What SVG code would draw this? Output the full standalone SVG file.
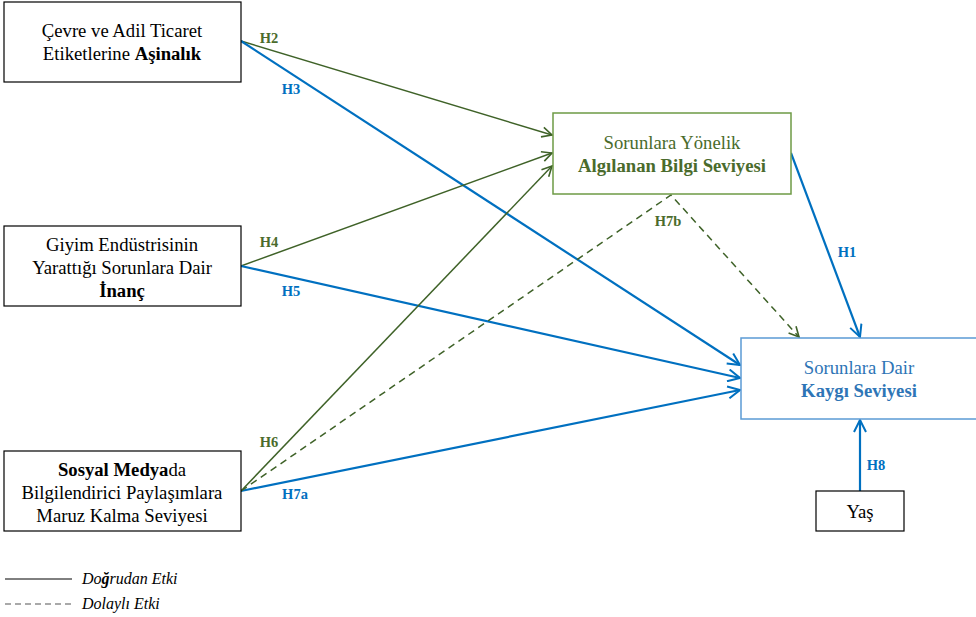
<svg xmlns="http://www.w3.org/2000/svg" width="976" height="617" viewBox="0 0 976 617">
<style>
text{font-size:18.7px;text-anchor:middle}
.box{fill:#fff;stroke:#000;stroke-width:1.2}
.gbox{fill:#fff;stroke:#6e9a45;stroke-width:1.5}
.bbox{fill:#fff;stroke:#5b9bd5;stroke-width:1.5}
.g{stroke:#3f6228;stroke-width:1.5;fill:none}
.gd{stroke:#3f6228;stroke-width:1.5;fill:none;stroke-dasharray:7,5}
.b{stroke:#0070c0;stroke-width:2.2;fill:none}
.lg{font-size:14.5px;font-weight:bold;fill:#4a6b2c}
.lb{font-size:14.5px;font-weight:bold;fill:#0070c0}
.leg{font-style:italic;font-size:16px;text-anchor:start}
</style>
<defs>
<marker id="ag" viewBox="0 0 12 12" refX="11" refY="6" markerWidth="12" markerHeight="12" markerUnits="userSpaceOnUse" orient="auto"><path d="M1,1 L11,6 L1,11" fill="none" stroke="#3f6228" stroke-width="1.6"/></marker>
<marker id="ab" viewBox="0 0 14 14" refX="13" refY="7" markerWidth="14" markerHeight="14" markerUnits="userSpaceOnUse" orient="auto"><path d="M1,1 L13,7 L1,13" fill="none" stroke="#0070c0" stroke-width="2"/></marker>
</defs>
<g id="connectors">
<line class="g" x1="241" y1="41" x2="552" y2="135" marker-end="url(#ag)"/>
<line class="b" x1="241" y1="41" x2="740" y2="365" marker-end="url(#ab)"/>
<line class="g" x1="241" y1="266" x2="552" y2="153" marker-end="url(#ag)"/>
<line class="b" x1="241" y1="266" x2="740" y2="378" marker-end="url(#ab)"/>
<line class="g" x1="241" y1="491" x2="552" y2="166" marker-end="url(#ag)"/>
<line class="b" x1="241" y1="491" x2="740" y2="390" marker-end="url(#ab)"/>
<polyline class="gd" points="241,491 671,195 799,337" marker-end="url(#ag)"/>
<line class="b" x1="791" y1="153" x2="860" y2="337" marker-end="url(#ab)"/>
<line class="b" x1="860" y1="491" x2="860" y2="420" marker-end="url(#ab)"/>
<text font-family="Liberation Serif" class="lg" x="269" y="43">H2</text>
<text font-family="Liberation Serif" class="lb" x="291" y="94">H3</text>
<text font-family="Liberation Serif" class="lg" x="269" y="247">H4</text>
<text font-family="Liberation Serif" class="lb" x="291" y="296">H5</text>
<text font-family="Liberation Serif" class="lg" x="269" y="447">H6</text>
<text font-family="Liberation Serif" class="lb" x="295" y="499">H7a</text>
<text font-family="Liberation Serif" class="lg" x="668" y="226">H7b</text>
<text font-family="Liberation Serif" class="lb" x="847" y="257">H1</text>
<text font-family="Liberation Serif" class="lb" x="876" y="470">H8</text>
</g>
<g id="n1"><rect class="box" x="4" y="2" width="237" height="80"/>
<text font-family="Liberation Serif" x="122" y="37">Çevre ve Adil Ticaret</text>
<text font-family="Liberation Serif" x="122" y="60">Etiketlerine <tspan font-weight="bold">Aşinalık</tspan></text></g>
<g id="n2"><rect class="box" x="4" y="226" width="237" height="80"/>
<text font-family="Liberation Serif" x="122" y="251">Giyim Endüstrisinin</text>
<text font-family="Liberation Serif" x="122" y="274">Yarattığı Sorunlara Dair</text>
<text font-family="Liberation Serif" x="122" y="297" font-weight="bold">İnanç</text></g>
<g id="n3"><rect class="box" x="4" y="451" width="237" height="80"/>
<text font-family="Liberation Serif" x="122" y="476"><tspan font-weight="bold">Sosyal Medya</tspan>da</text>
<text font-family="Liberation Serif" x="122" y="499">Bilgilendirici Paylaşımlara</text>
<text font-family="Liberation Serif" x="122" y="522">Maruz Kalma Seviyesi</text></g>
<g id="n4"><rect class="gbox" x="553" y="113" width="238" height="81"/>
<text font-family="Liberation Serif" x="672" y="149" fill="#4a6b2c">Sorunlara Yönelik</text>
<text font-family="Liberation Serif" x="672" y="172" fill="#4a6b2c" font-weight="bold">Algılanan Bilgi Seviyesi</text></g>
<g id="n5"><rect class="bbox" x="741" y="338" width="240" height="81"/>
<text font-family="Liberation Serif" x="859" y="374" fill="#2e75b6">Sorunlara Dair</text>
<text font-family="Liberation Serif" x="859" y="397" fill="#2e75b6" font-weight="bold">Kaygı Seviyesi</text></g>
<g id="n6"><rect class="box" x="816" y="491" width="88" height="40"/>
<text font-family="Liberation Serif" x="860" y="518">Yaş</text></g>
<g id="legend">
<line x1="5" y1="579" x2="72" y2="579" stroke="#000" stroke-width="1"/>
<text font-family="Liberation Serif" class="leg" x="82" y="584">Do<tspan font-weight="bold">ğ</tspan>rudan Etki</text>
<line x1="5" y1="604" x2="72" y2="604" stroke="#555" stroke-width="1.2" stroke-dasharray="6,4"/>
<text font-family="Liberation Serif" class="leg" x="82" y="609">Dolaylı Etki</text>
</g>
</svg>
